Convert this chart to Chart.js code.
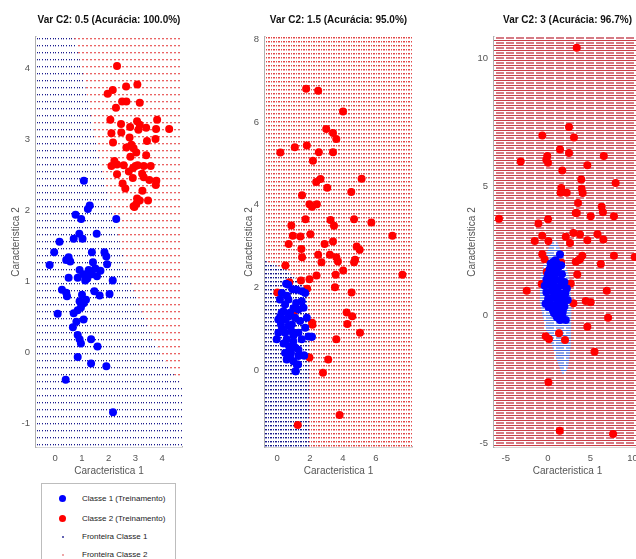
<!DOCTYPE html>
<html>
<head>
<meta charset="utf-8">
<script src="https://cdn.jsdelivr.net/npm/chart.js@4.4.0/dist/chart.umd.min.js"></script>
<style>
html, body { margin: 0; padding: 0; background: #fff; overflow: hidden; width: 636px; height: 559px; }
canvas { position: absolute; top: 0; }
#legend { position: absolute; left: 41px; top: 483px; width: 133px; height: 90px; border: 1px solid #bdbdbd; background: #fff;
  font: 8px "Liberation Sans", Arial, sans-serif; color: #222; }
#legend .it { position: absolute; left: 40px; white-space: nowrap; line-height: 10px; }
#legend .mk { position: absolute; border-radius: 50%; }
</style>
</head>
<body>
<canvas id="c1" width="180" height="480" style="left:10px;width:180px;height:480px"></canvas>
<canvas id="c2" width="177" height="480" style="left:243px;width:177px;height:480px"></canvas>
<canvas id="c3" width="183" height="480" style="left:466px;width:183px;height:480px"></canvas>
<div id="legend">
  <div class="mk" style="left:17px;top:11px;width:7px;height:7px;background:#0000ff"></div>
  <div class="it" style="top:10px">Classe 1 (Treinamento)</div>
  <div class="mk" style="left:17px;top:31px;width:7px;height:7px;background:#ff0000"></div>
  <div class="it" style="top:30px">Classe 2 (Treinamento)</div>
  <div class="mk" style="left:20px;top:52px;width:2px;height:2px;background:#30309a"></div>
  <div class="it" style="top:48px">Fronteira Classe 1</div>
  <div class="mk" style="left:20px;top:70px;width:2px;height:2px;background:#e98a8a"></div>
  <div class="it" style="top:66px">Fronteira Classe 2</div>
</div>
<script>
var FONT = '"Liberation Sans", Arial, sans-serif';
var titles = ['Var C2: 0.5 (Acurácia: 100.0%)', 'Var C2: 1.5 (Acurácia: 95.0%)', 'Var C2: 3 (Acurácia: 96.7%)'];
var xLabel = 'Caracteristica 1';
var yLabel = 'Caracteristica 2';

// ---- subplot 1 (var 0.5) ----
var s1XTicks = [0, 1, 2, 3, 4];
var s1YTicks = [-1, 0, 1, 2, 3, 4];
var s1BlueX = [1.07, 1.29, 1.22, 0.76, 0.97, 2.28, 0.90, 1.55, 0.69, 1.02, 0.16, -0.04, 0.50, 0.41, 0.56, -0.21, 1.37, 1.84, 1.91, 1.41,
  1.94, 0.91, 1.25, 1.69, 1.06, 1.37, 0.50, 0.84, 1.12, 1.56, 2.15, 0.25, 0.41, 0.44, 1.00, 1.46, 1.66, 2.03, 0.91, 1.06,
  1.15, 0.96, 0.84, 0.69, 0.09, 1.06, 0.79, 0.66, 0.84, 0.91, 0.96, 1.34, 1.58, 0.84, 1.34, 1.91, 0.39, 2.16, 1.30, 1.50, 1.20];
var s1BlueY = [2.42, 2.07, 2.02, 1.94, 1.88, 1.88, 1.67, 1.67, 1.60, 1.60, 1.56, 1.41, 1.34, 1.30, 1.28, 1.23, 1.41, 1.41, 1.35, 1.27,
  1.24, 1.16, 1.16, 1.15, 1.10, 1.10, 1.05, 1.05, 1.01, 1.07, 1.01, 0.88, 0.84, 0.79, 0.81, 0.86, 0.80, 0.82, 0.72, 0.69,
  0.74, 0.63, 0.59, 0.55, 0.54, 0.46, 0.43, 0.35, 0.24, 0.18, 0.12, 0.18, 0.08, -0.07, -0.16, -0.20, -0.39, -0.85, 1.12, 1.18, 1.04];
var s1RedX = [2.31, 1.96, 2.15, 2.65, 3.07, 2.50, 2.66, 3.16, 2.27, 2.06, 2.46, 2.80, 3.06, 3.16, 3.40, 3.81, 3.77, 4.26, 3.11, 2.10,
  2.47, 2.78, 2.85, 3.43, 3.75, 2.16, 2.66, 2.93, 2.81, 3.03, 3.40, 2.21, 2.10, 2.31, 2.56, 2.91, 3.00, 3.08, 3.31, 3.57,
  2.75, 2.90, 3.25, 3.31, 2.31, 3.52, 3.78, 3.76, 2.52, 2.62, 3.26, 3.06, 3.16, 3.47, 2.93, 3.03, 2.96];
var s1RedY = [4.04, 3.65, 3.70, 3.75, 3.78, 3.54, 3.54, 3.52, 3.45, 3.28, 3.22, 3.18, 3.26, 3.21, 3.17, 3.28, 3.15, 3.15, 3.14, 3.09,
  3.10, 3.03, 2.93, 2.98, 3.01, 2.96, 2.89, 2.88, 2.76, 2.82, 2.78, 2.70, 2.63, 2.65, 2.64, 2.60, 2.63, 2.64, 2.63, 2.63,
  2.55, 2.46, 2.52, 2.47, 2.51, 2.43, 2.42, 2.36, 2.38, 2.31, 2.28, 2.17, 2.14, 2.14, 2.06, 2.09, 2.05];
// class 1 region lies below this boundary
var s1BoundX = [-0.72, 0.7, 1.0, 1.25, 1.5, 1.8, 2.1, 2.45, 2.8, 3.3, 3.9, 4.4, 4.74];
var s1BoundY = [4.45, 4.45, 4.0, 3.5, 3.0, 2.5, 2.0, 1.5, 1.0, 0.5, 0.0, -0.3, -0.45];

// ---- subplot 2 (var 1.5) ----
var s2XTicks = [0, 2, 4, 6];
var s2YTicks = [0, 2, 4, 6, 8];
var s2BlueX = [0.69, 0.94, 0.18, 0.49, 0.69, 1.16, 1.50, 1.61, 0.39, 0.79, 0.08, 0.53, 1.10, 1.40, 0.24, 0.69, 1.71, 0.08, 0.49, 0.90,
  1.30, 2.12, 0.59, 0.99, 0.73, 1.10, 1.30, 0.49, 0.85, 0.59, 0.99, 1.20, 1.65, 1.14, 0.28, -0.02, 1.81, 1.91, 0.90, 1.30,
  1.50, 0.29, 1.20, 1.71, 0.55, 1.52, 2.09, 1.63, 1.12, 1.28, 0.30, 0.70, 1.00, 0.40, 0.80, 1.00, 0.60, 0.20, 1.30];
var s2BlueY = [2.07, 1.96, 1.71, 1.59, 1.71, 1.63, 1.67, 1.51, 1.43, 1.39, 1.23, 1.23, 1.27, 1.19, 1.11, 1.07, 1.03, 0.91, 0.91, 0.94,
  0.91, 0.81, 0.75, 0.70, 0.58, 0.55, 0.50, 0.42, 0.42, 0.26, 0.22, 0.14, 0.36, -0.02, 1.39, 0.75, 1.27, 0.82, 1.11, 1.47,
  0.75, 1.87, 1.95, 1.87, 2.09, 1.91, 0.81, 0.36, -0.02, 0.14, 1.00, 1.30, 0.85, 0.65, 0.30, 1.50, 1.80, 1.30, 0.35];
var s2RedX = [1.77, 2.50, 4.01, 2.99, 3.40, 3.60, 0.20, 1.08, 1.81, 2.54, 3.40, 2.18, 2.38, 2.64, 3.05, 5.14, 4.51, 1.52, 1.97, 2.13,
  2.42, 1.73, 3.25, 4.68, 5.73, 0.87, 3.46, 2.03, 7.01, 0.96, 1.42, 0.71, 2.89, 3.40, 1.48, 4.84, 5.02, 1.52, 2.50, 3.21,
  3.60, 3.70, 2.70, 4.74, 4.68, 0.51, 4.02, 3.56, 2.40, 7.62, 0.75, 1.45, 1.97, 3.52, 1.83, 0.02, 4.53, 1.02, 4.23, 4.57,
  4.27, 2.13, 5.04, 3.60, 1.97, 3.11, 2.79, 3.80, 1.26, 2.15];
var s2RedY = [6.80, 6.75, 6.25, 5.83, 5.73, 5.59, 5.26, 5.39, 5.43, 5.27, 5.27, 5.06, 4.55, 4.62, 4.41, 4.63, 4.31, 4.23, 4.01, 3.95,
  4.01, 3.65, 3.63, 3.65, 3.57, 3.50, 3.49, 3.29, 3.25, 3.25, 3.23, 3.05, 3.05, 3.11, 2.93, 2.99, 2.91, 2.73, 2.79, 2.79,
  2.73, 2.63, 2.61, 2.67, 2.61, 2.53, 2.41, 2.31, 2.29, 2.31, 2.13, 2.17, 2.20, 2.01, 1.97, 1.88, 1.88, 1.39, 1.40, 1.31,
  1.12, 1.15, 0.91, 0.75, 0.31, 0.26, -0.06, -1.08, -1.32, 1.10];
var s2BoundX = [-0.73, -0.5, 0.5, 1.2, 1.7, 1.9, 1.95, 1.96];
var s2BoundY = [2.65, 2.6, 2.45, 2.2, 2.0, 1.5, 1.0, -1.85];

// ---- subplot 3 (var 3) ----
var s3XTicks = [-5, 0, 5, 10];
var s3YTicks = [-5, 0, 5, 10];
var s3BlueX = [1.42, 0.63, 0.32, 0.87, 0.19, 0.78, 1.26, 0.00, 0.49, 1.07, 1.65, -0.19, 0.39, 0.87, 1.46, 1.94, -0.39, 0.19, 0.68, 1.16,
  1.75, 2.23, -0.19, 0.39, 0.97, 1.46, 2.04, 0.00, 0.58, 1.07, 1.65, 2.33, -0.29, 0.29, 0.87, 1.36, 1.94, 0.04, 0.58, 1.16,
  1.75, 0.71, 1.11, 1.70, 2.10, 1.42, 1.03, 0.49, 0.97, 1.55];
var s3BlueY = [2.36, 2.07, 2.01, 2.14, 1.79, 1.84, 1.89, 1.59, 1.64, 1.64, 1.59, 1.39, 1.44, 1.39, 1.34, 1.29, 1.14, 1.19, 1.14, 1.09,
  1.14, 1.04, 0.89, 0.94, 0.89, 0.84, 0.84, 0.64, 0.69, 0.64, 0.59, 0.59, 0.44, 0.44, 0.39, 0.39, 0.34, 0.32, 0.19, 0.19,
  0.14, 0.07, -0.09, 0.00, -0.19, -0.19, -0.06, 1.99, 2.04, 1.94];
var s3RedX = [3.40, 2.48, -0.67, 3.07, 1.42, 2.48, -0.09, -0.20, 0.00, -3.23, 6.60, 4.65, 1.69, 3.94, 8.00, 1.57, 1.49, 2.21, 3.99, 4.10,
  3.55, 6.35, 6.50, 3.28, 5.05, 7.80, 0.00, -1.14, -5.80, -0.68, 3.00, 3.78, 2.10, 5.85, -1.57, 0.04, 4.65, 6.55, -0.68, -0.40,
  1.57, 3.28, 4.06, 3.78, 6.25, 7.80, 10.25, -0.09, 3.46, 2.69, -0.75, -2.52, 6.95, 3.00, 4.46, 5.05, 7.10, 4.65, -0.27, 0.12,
  1.30, 2.01, 5.50, 0.04, 1.39, 7.70, 2.60, -0.16, 3.40, 3.59];
var s3RedY = [10.42, 7.33, 7.00, 6.92, 6.46, 6.32, 6.20, 6.06, 5.94, 5.99, 6.20, 5.84, 5.64, 5.29, 5.15, 4.95, 4.77, 4.77, 4.93, 4.76,
  4.37, 4.22, 4.01, 3.98, 3.85, 3.85, 3.74, 3.57, 3.76, 3.09, 3.20, 3.14, 3.05, 3.15, 2.89, 2.89, 2.92, 2.95, 2.37, 2.18,
  2.05, 2.08, 2.31, 2.18, 1.99, 2.31, 2.27, 1.66, 1.58, 1.23, 1.21, 0.95, 0.95, 0.46, 0.55, 0.50, -0.10, -0.45, -0.82, -0.93,
  -0.71, -0.97, -1.43, -2.62, -4.51, -4.63, 2.81, 1.69, 3.98, 2.14];
// class 1 region lies between an upper and a lower boundary
var s3UpperX = [-1.0, -0.9, -0.3, 0.4, 1.0, 1.8, 2.5, 2.8];
var s3UpperY = [0.5, 1.5, 2.3, 2.9, 2.9, 2.3, 1.5, 0.5];
var s3LowerX = [-1.0, -0.3, 0.5, 1.3, 1.7, 2.0, 2.4, 2.7, 2.8];
var s3LowerY = [0.5, -0.5, -1.2, -2.0, -2.3, -2.3, -2.0, -1.2, 0.5];

function pts(xs, ys) {
    return xs.map(function (x, i) { return {x: x, y: ys[i]}; });
}

// small dotted tile used as the fill of a decision region
function tile(w, h, rows) {
    var c = document.createElement('canvas');
    c.width = w; c.height = h;
    var g = c.getContext('2d');
    g.fillStyle = '#fff';
    g.fillRect(0, 0, w, h);
    rows.forEach(function (r) {
        g.fillStyle = r.color;
        r.xs.forEach(function (x) { g.fillRect(x, r.y, 1, 1); });
    });
    return c;
}
function range(n) { return Array.from(Array(n).keys()); }

function region(data, fill, pattern) {
    return {
        type: 'line', data: data, fill: fill,
        backgroundColor: pattern, borderColor: 'rgba(0,0,0,0)', borderWidth: 0,
        borderDash: [2, 2], pointRadius: 0
    };
}

function makePlot(id, p) {
    var ctx = document.getElementById(id).getContext('2d');
    var blueFill = ctx.createPattern(tile(p.tw, p.th, p.blueRows), 'repeat');
    var redFill = ctx.createPattern(tile(p.tw, p.th, p.redRows), 'repeat');

    var datasets = [
        {data: pts(p.bx, p.by), backgroundColor: '#0000ff', pointRadius: 4, borderWidth: 0},
        {data: pts(p.rx, p.ry), backgroundColor: '#ff0000', pointRadius: 4, borderWidth: 0}
    ];
    if (p.lower) {
        datasets.push(region(p.upper, '+1', blueFill));
        datasets.push(region(p.lower, false, 'rgba(0,0,0,0)'));
    } else {
        datasets.push(region(p.upper, 'start', blueFill));
    }
    datasets.push(region([{x: p.xmin, y: p.ymax}, {x: p.xmax, y: p.ymax}], 'start', redFill));

    var tickFont = {family: FONT, size: 9.5};
    new Chart(ctx, {
        type: 'scatter',
        data: {datasets: datasets},
        options: {
            responsive: false,
            animation: false,
            events: [],
            layout: {padding: {left: 0, right: 8, top: 0, bottom: 0}},
            plugins: {
                legend: {display: false},
                tooltip: {enabled: false},
                title: {
                    display: true, text: p.title, fullSize: false, color: '#111',
                    font: {family: FONT, size: 10, weight: 'bold'},
                    padding: {top: 14, bottom: 11}
                }
            },
            scales: {
                x: {
                    type: 'linear', min: p.xmin, max: p.xmax,
                    afterBuildTicks: function (s) { s.ticks = p.xt.map(function (v) { return {value: v}; }); },
                    afterFit: function (s) { s.height = 33; },
                    grid: {display: true, drawOnChartArea: false, drawTicks: false},
                    border: {display: true, color: '#b0b0b0', width: 1.5},
                    ticks: {font: tickFont, color: '#555', padding: 6},
                    title: {display: true, text: xLabel, color: '#555', font: {family: FONT, size: 10}, padding: {top: 0, bottom: 3}}
                },
                y: {
                    type: 'linear', min: p.ymin, max: p.ymax,
                    afterBuildTicks: function (s) { s.ticks = p.yt.map(function (v) { return {value: v}; }); },
                    afterFit: function (s) { s.width = p.yw; },
                    grid: {display: true, drawOnChartArea: false, drawTicks: false},
                    border: {display: true, color: '#b0b0b0', width: 1.5},
                    ticks: {font: tickFont, color: '#555', padding: 6},
                    title: {display: true, text: yLabel, color: '#555', font: {family: FONT, size: 10}, padding: {top: 0, bottom: 0}}
                }
            }
        }
    });
}

makePlot('c1', {
    title: titles[0], yw: 26, xmin: -0.72, xmax: 4.74, ymin: -1.34, ymax: 4.45, xt: s1XTicks, yt: s1YTicks,
    bx: s1BlueX, by: s1BlueY, rx: s1RedX, ry: s1RedY, upper: pts(s1BoundX, s1BoundY),
    tw: 8, th: 7,
    blueRows: [{y: 3, color: '#1c1c8c', xs: [0, 3, 5]}, {y: 4, color: '#b4b4dc', xs: [0, 3, 5]}],
    redRows: [{y: 3, color: '#ea6464', xs: [0, 1, 4, 5]}, {y: 4, color: '#f8cccc', xs: [0, 1, 4, 5]}]
});

makePlot('c2', {
    title: titles[1], yw: 22, xmin: -0.73, xmax: 8.2, ymin: -1.85, ymax: 8.05, xt: s2XTicks, yt: s2YTicks,
    bx: s2BlueX, by: s2BlueY, rx: s2RedX, ry: s2RedY, upper: pts(s2BoundX, s2BoundY),
    tw: 5, th: 4,
    blueRows: [{y: 1, color: '#1c1c8c', xs: [0, 2, 3]}, {y: 2, color: '#a0a0d2', xs: [0, 2, 3]}],
    redRows: [{y: 1, color: '#e04848', xs: [0, 1, 3]}, {y: 2, color: '#f3aaaa', xs: [0, 1, 3]}]
});

makePlot('c3', {
    title: titles[2], yw: 28, xmin: -6.39, xmax: 11.0, ymin: -5.14, ymax: 10.84, xt: s3XTicks, yt: s3YTicks,
    bx: s3BlueX, by: s3BlueY, rx: s3RedX, ry: s3RedY,
    upper: pts(s3UpperX, s3UpperY), lower: pts(s3LowerX, s3LowerY),
    tw: 10, th: 5,
    blueRows: [{y: 0, color: 'rgb(70,100,215)', xs: range(10)}, {y: 2, color: 'rgb(140,165,232)', xs: range(8)}, {y: 3, color: 'rgb(140,165,232)', xs: range(8)}],
    redRows: [{y: 0, color: 'rgb(200,60,70)', xs: range(10)}, {y: 2, color: 'rgb(214,122,132)', xs: range(8)}, {y: 3, color: 'rgb(214,122,132)', xs: range(8)}]
});
</script>
</body>
</html>
